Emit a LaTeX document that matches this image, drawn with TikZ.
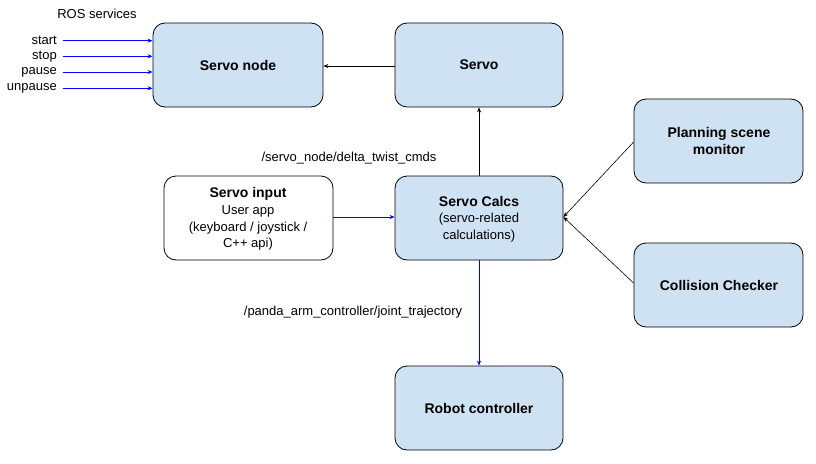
\documentclass[tikz,border=0pt]{standalone}
\usepackage{fontspec}
\setmainfont{Liberation Sans}
\usetikzlibrary{arrows.meta}
\begin{document}
\begin{tikzpicture}[x=1pt,y=-1pt,
  box/.style={draw=black,line width=0.8pt,rounded corners=12pt,align=center,inner sep=0pt},
  bluebox/.style={box,fill={rgb,255:red,207;green,226;blue,243}},
  whitebox/.style={box,fill=white},
  lbl/.style={font=\fontsize{13}{15.5}\selectfont,inner sep=0pt},
  blk/.style={-{Stealth[length=5pt,width=4pt]},line width=0.6pt,black},
  blu/.style={-{Stealth[length=5pt,width=4pt]},line width=0.9pt,blue},
  bf/.style={font=\fontsize{14}{17}\selectfont\bfseries,inner sep=0pt},
  multi/.style={align=center,inner sep=0pt,font=\fontsize{13}{16.7}\selectfont}]
\useasboundingbox (0,0) rectangle (816,463);
\newcommand{\mybox}[6]{\node[#1,minimum width=#4-#2,minimum height=#5-#3] (#6) at ({(#2+#4)/2},{(#3+#5)/2}) {};}
\mybox{bluebox}{153}{23}{323}{107}{node}
\mybox{bluebox}{395}{23}{563}{107}{servo}
\mybox{bluebox}{634}{99}{803}{183}{psm}
\mybox{whitebox}{164}{176}{333}{260}{input}
\mybox{bluebox}{395}{176}{563}{260}{calcs}
\mybox{bluebox}{634}{243}{803}{327}{cc}
\mybox{bluebox}{395}{366}{563}{450}{robot}
\node[bf] (tnode) at (238,65) {Servo node};
\node[bf] (tservo) at (479,65) {Servo};
\node[bf,align=center] (tpsm) at (719,141) {Planning scene\\monitor};
\node[bf] (tcc) at (719,285) {Collision Checker};
\node[bf] (trobot) at (479,408) {Robot controller};
\node[multi] (tinput) at (248,219) {{\fontsize{14}{17}\selectfont\bfseries Servo input}\\User app\\(keyboard / joystick /\\C++ api)};
\node[multi] (tcalcs) at (479,219) {{\fontsize{14}{17}\selectfont\bfseries Servo Calcs}\\(servo-related\\calculations)};
\node[lbl] (ros) at (97,14) {ROS services};
\node[lbl,anchor=east] (lstart) at (57,40.7) {start};
\node[lbl,anchor=east] (lstop) at (57,56.3) {stop};
\node[lbl,anchor=east] (lpause) at (57,72) {pause};
\node[lbl,anchor=east] (lunpause) at (57,88.3) {unpause};
\coordinate (sstart) at (63,40.7);
\coordinate (sstop) at (63,56.3);
\coordinate (spause) at (63,72);
\coordinate (sunpause) at (63,88.3);
\draw[blu] (sstart) -- (sstart -| node.west);
\draw[blu] (sstop) -- (sstop -| node.west);
\draw[blu] (spause) -- (spause -| node.west);
\draw[blu] (sunpause) -- (sunpause -| node.west);
\draw[blk] (servo.west |- 0,66) -- (node.east |- 0,66);
\draw[blk] (calcs.north) -- (servo.south);
\node[lbl] (ldelta) at (349,158) {/servo\_node/delta\_twist\_cmds};
\draw[blu] (input.east |- 0,217) -- (calcs.west |- 0,217);
\draw[blk] (psm.west |- 0,142) -- (calcs.east |- 0,217);
\draw[blk] (cc.west |- 0,283) -- (calcs.east |- 0,217);
\draw[blu] (calcs.south) -- (robot.north);
\node[lbl] (ljoint) at (353,312) {/panda\_arm\_controller/joint\_trajectory};
\end{tikzpicture}
\end{document}
